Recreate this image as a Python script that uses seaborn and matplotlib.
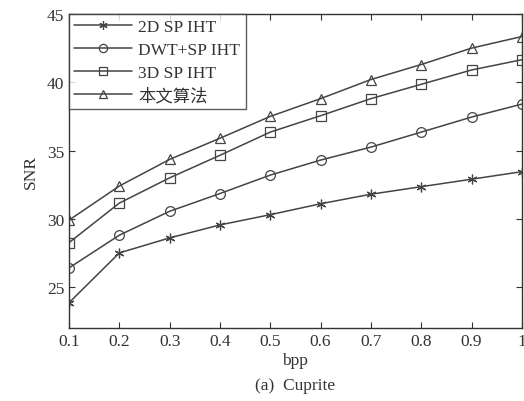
import numpy as np
import pandas as pd
import matplotlib
matplotlib.use("Agg")
import matplotlib.pyplot as plt
import seaborn as sns

# ----- Data -----
bpp = [0.1, 0.2, 0.3, 0.4, 0.5, 0.6, 0.7, 0.8, 0.9, 1.0]
snr_2d = [23.85, 27.5, 28.6, 29.55, 30.3, 31.1, 31.8, 32.35, 32.9, 33.45]
snr_dwt = [26.4, 28.8, 30.55, 31.85, 33.2, 34.3, 35.25, 36.35, 37.45, 38.4]
snr_3d = [28.25, 31.15, 33.0, 34.65, 36.35, 37.55, 38.8, 39.85, 40.9, 41.65]
snr_ours = [29.9, 32.4, 34.35, 35.9, 37.5, 38.8, 40.2, 41.3, 42.5, 43.35]
labels = ["2D SP IHT", "DWT+SP IHT", "3D SP IHT", "本文算法"]
markers = [(6, 2, 0), "o", "s", "^"]

df = pd.DataFrame({"bpp": bpp * 4,
                   "SNR": snr_2d + snr_dwt + snr_3d + snr_ours,
                   "method": sum([[l] * len(bpp) for l in labels], [])})

# ----- Style -----
sns.set_style("ticks")
plt.rcParams["font.family"] = ["Liberation Serif", "Noto Sans CJK SC"]
plt.rcParams["xtick.direction"] = "in"
plt.rcParams["ytick.direction"] = "in"

fig = plt.figure(figsize=(5.24, 4.02), dpi=100)
ax = fig.add_axes([0.1317, 0.1816, 0.8643, 0.7811])

line_col = "#444444"
for lab, m in zip(labels, markers):
    sub = df[df["method"] == lab]
    sns.lineplot(data=sub, x="bpp", y="SNR", ax=ax, color=line_col, lw=1.1,
                 marker=m, markersize=7,
                 markerfacecolor="none", markeredgecolor=line_col,
                 markeredgewidth=0.9, label=lab)

ax.set_xlim(0.1, 1.0)
ax.set_ylim(22, 45)
ax.set_xticks(bpp)
ax.set_xticklabels(["0.1", "0.2", "0.3", "0.4", "0.5", "0.6", "0.7", "0.8", "0.9", "1"])
ax.set_yticks([25, 30, 35, 40, 45])
ax.tick_params(axis="both", labelsize=12.5, colors="#333333", top=True, right=True,
               length=4, width=0.8)
for s in ax.spines.values():
    s.set_visible(True)
    s.set_color("#333333")
    s.set_linewidth(1.0)

ax.set_xlabel("bpp", fontsize=12.5, color="#333333", labelpad=2)
ax.set_ylabel("SNR", fontsize=12.5, color="#333333", labelpad=6)

leg = ax.legend(loc="upper left", fontsize=12.5, handlelength=3.3, borderaxespad=0,
                fancybox=False, frameon=True, labelspacing=0.38, borderpad=0.3,
                handletextpad=0.4, markerscale=0.85)
leg.get_frame().set_edgecolor("#333333")
leg.get_frame().set_linewidth(1.0)
for t in leg.get_texts():
    t.set_color("#333333")

fig.text(0.563, 0.03, "(a)  Cuprite", ha="center", fontsize=12.5, color="#333333")

fig.savefig("out.png", dpi=100)
